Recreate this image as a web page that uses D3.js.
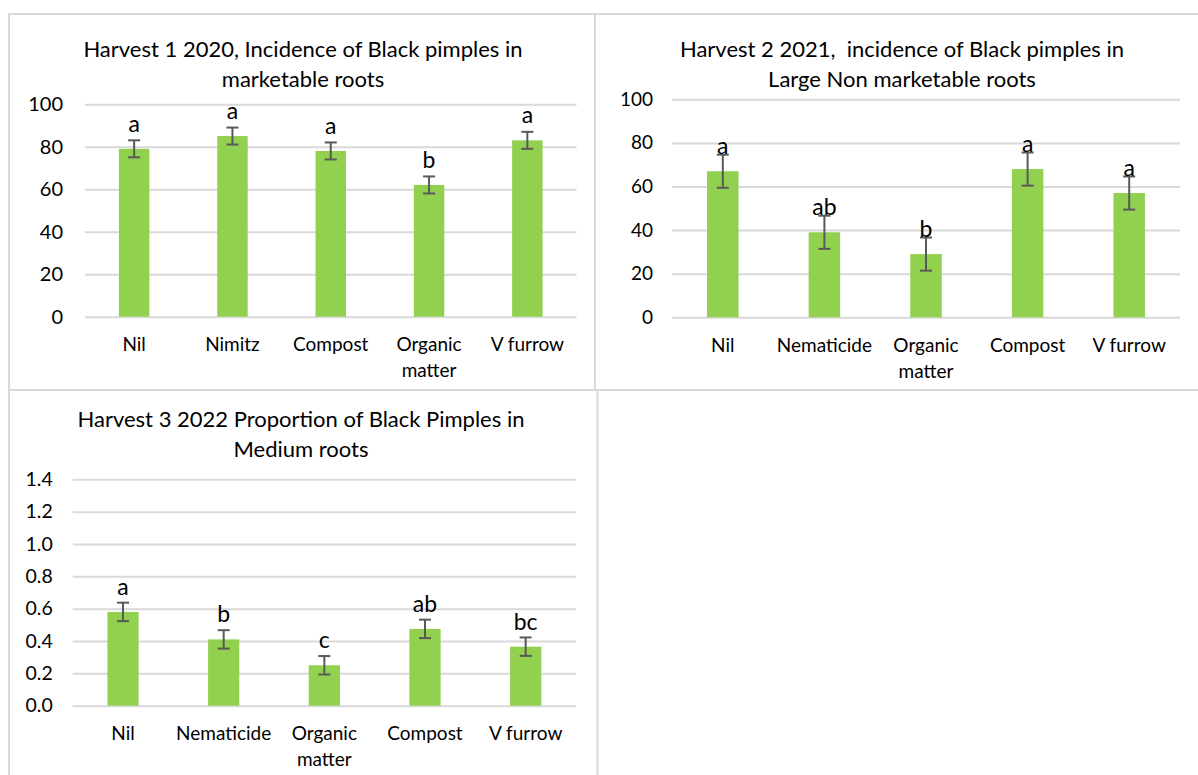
<!DOCTYPE html>
<html>
<head>
<meta charset="utf-8">
<script src="https://cdn.jsdelivr.net/npm/d3@7"></script>
<style>
  html, body { margin: 0; padding: 0; background: #ffffff; }
  svg { display: block; }
  text { font-family: Lato, "Open Sans", sans-serif; fill: #000; }
</style>
</head>
<body>
<svg id="fig" width="1198" height="775"></svg>
<script>
// Harvest 1 (2020) – marketable roots
const cats1 = ["Nil", "Nimitz", "Compost", "Organic matter", "V furrow"];
const vals1 = [79, 85, 78, 62, 83];
const errs1 = [4, 4, 4, 4, 4];
const letters1 = ["a", "a", "a", "b", "a"];
const ticks1 = [0, 20, 40, 60, 80, 100];

// Harvest 2 (2021) – large non-marketable roots
const cats2 = ["Nil", "Nematicide", "Organic matter", "Compost", "V furrow"];
const vals2 = [67, 39, 29, 68, 57];
const errs2 = [7.6, 7.6, 7.6, 7.6, 7.6];
const letters2 = ["a", "ab", "b", "a", "a"];
const ticks2 = [0, 20, 40, 60, 80, 100];

// Harvest 3 (2022) – medium roots
const cats3 = ["Nil", "Nematicide", "Organic matter", "Compost", "V furrow"];
const vals3 = [0.58, 0.41, 0.25, 0.475, 0.365];
const errs3 = [0.057, 0.057, 0.057, 0.057, 0.057];
const letters3 = ["a", "b", "c", "ab", "bc"];
const ticks3 = [0, 0.2, 0.4, 0.6, 0.8, 1.0, 1.2, 1.4];

const svg = d3.select("#fig");
const GRID = "#d9d9d9", BAR = "#92d050", ERR = "#595959";

// frame lines separating the three chart areas
const frame = svg.append("g").attr("stroke", GRID).attr("stroke-width", 2);
frame.append("line").attr("x1", 8).attr("x2", 1198).attr("y1", 14).attr("y2", 14);
frame.append("line").attr("x1", 8).attr("x2", 1198).attr("y1", 390).attr("y2", 390);
frame.append("line").attr("x1", 9).attr("x2", 9).attr("y1", 14).attr("y2", 775);
frame.append("line").attr("x1", 595).attr("x2", 595).attr("y1", 14).attr("y2", 390);
frame.append("line").attr("x1", 597.5).attr("x2", 597.5).attr("y1", 390).attr("y2", 775);

function wrapLabel(textSel, width) {
  textSel.each(function () {
    const t = d3.select(this);
    const words = t.text().split(/\s+/);
    const x = t.attr("x");
    t.text(null);
    let line = [];
    let tspan = t.append("tspan").attr("x", x).attr("dy", 0);
    words.forEach(w => {
      line.push(w);
      tspan.text(line.join(" "));
      if (tspan.node().getComputedTextLength() > width && line.length > 1) {
        line.pop();
        tspan.text(line.join(" "));
        line = [w];
        tspan = t.append("tspan").attr("x", x).attr("dy", 25.5).text(w);
      }
    });
  });
}

function drawPanel(cfg) {
  const g = svg.append("g");
  const x = d3.scaleBand().domain(cfg.cats).range([cfg.x0, cfg.x1]).paddingInner(0.69).paddingOuter(0.345);
  const y = d3.scaleLinear().domain([0, cfg.ymax]).range([cfg.y0, cfg.y1]);

  // title
  const title = g.append("text")
    .attr("text-anchor", "middle")
    .style("font-size", cfg.titleSize + "px")
    .style("white-space", "pre");
  cfg.title.forEach((ln, i) => {
    title.append("tspan").attr("x", cfg.titleX).attr("y", cfg.titleY + i * cfg.titleGap).text(ln);
  });

  // gridlines + value axis labels
  const yAxis = d3.axisLeft(y).tickValues(cfg.ticks).tickFormat(cfg.fmt)
    .tickSize(-(cfg.x1 - cfg.x0)).tickPadding(cfg.tickPad);
  const ag = g.append("g").attr("transform", `translate(${cfg.x0},0)`).call(yAxis);
  ag.select(".domain").remove();
  ag.selectAll(".tick line").attr("stroke", GRID).attr("stroke-width", 2);
  ag.selectAll(".tick text").attr("fill", "#000").style("font-size", cfg.tickSize + "px")
    .style("font-family", "Lato, 'Open Sans', sans-serif");

  // bars
  g.selectAll("rect.bar").data(cfg.vals).join("rect")
    .attr("class", "bar")
    .attr("x", (d, i) => x(cfg.cats[i]))
    .attr("width", x.bandwidth())
    .attr("y", d => y(d))
    .attr("height", d => y(0) - y(d))
    .attr("fill", BAR);

  // error bars
  const eg = g.append("g").attr("stroke", ERR).attr("stroke-width", 2);
  cfg.vals.forEach((v, i) => {
    const cx = x(cfg.cats[i]) + x.bandwidth() / 2;
    const e = cfg.errs[i];
    eg.append("line").attr("x1", cx).attr("x2", cx).attr("y1", y(v + e)).attr("y2", y(v - e));
    eg.append("line").attr("x1", cx - 6).attr("x2", cx + 6).attr("y1", y(v + e)).attr("y2", y(v + e));
    eg.append("line").attr("x1", cx - 6).attr("x2", cx + 6).attr("y1", y(v - e)).attr("y2", y(v - e));
  });

  // significance letters above each bar
  g.selectAll("text.sig").data(cfg.vals).join("text")
    .attr("class", "sig")
    .attr("text-anchor", "middle")
    .attr("x", (d, i) => x(cfg.cats[i]) + x.bandwidth() / 2)
    .attr("y", d => y(d) - 17)
    .style("font-size", cfg.letterSize + "px")
    .text((d, i) => cfg.letters[i]);

  // category labels
  g.selectAll("text.cat").data(cfg.cats).join("text")
    .attr("class", "cat")
    .attr("text-anchor", "middle")
    .attr("x", d => x(d) + x.bandwidth() / 2)
    .attr("y", cfg.catY)
    .style("font-size", cfg.catSize + "px")
    .text(d => d)
    .call(wrapLabel, x.step() * 1.0);
}

drawPanel({
  cats: cats1, vals: vals1, errs: errs1, letters: letters1, ticks: ticks1, ymax: 100,
  fmt: d3.format("d"),
  x0: 85, x1: 576.5, y0: 316.7, y1: 104.2,
  title: ["Harvest 1 2020, Incidence of Black pimples in", "marketable roots"],
  titleX: 303, titleY: 57, titleGap: 29.5, titleSize: 22,
  tickSize: 20, tickPad: 22, letterSize: 23, catSize: 19, catY: 351
});

drawPanel({
  cats: cats2, vals: vals2, errs: errs2, letters: letters2, ticks: ticks2, ymax: 100,
  fmt: d3.format("d"),
  x0: 672, x1: 1180, y0: 317.3, y1: 99.3,
  title: ["Harvest 2 2021,  incidence of Black pimples in", "Large Non marketable roots"],
  titleX: 902, titleY: 57, titleGap: 29.5, titleSize: 22,
  tickSize: 19, tickPad: 19, letterSize: 23, catSize: 19, catY: 352
});

drawPanel({
  cats: cats3, vals: vals3, errs: errs3, letters: letters3, ticks: ticks3, ymax: 1.4,
  fmt: d3.format(".1f"),
  x0: 72.7, x1: 576, y0: 705.7, y1: 479.3,
  title: ["Harvest 3 2022 Proportion of Black Pimples in", "Medium roots"],
  titleX: 301, titleY: 426.5, titleGap: 30, titleSize: 22,
  tickSize: 19.5, tickPad: 20, letterSize: 23, catSize: 19, catY: 740
});
</script>
</body>
</html>
